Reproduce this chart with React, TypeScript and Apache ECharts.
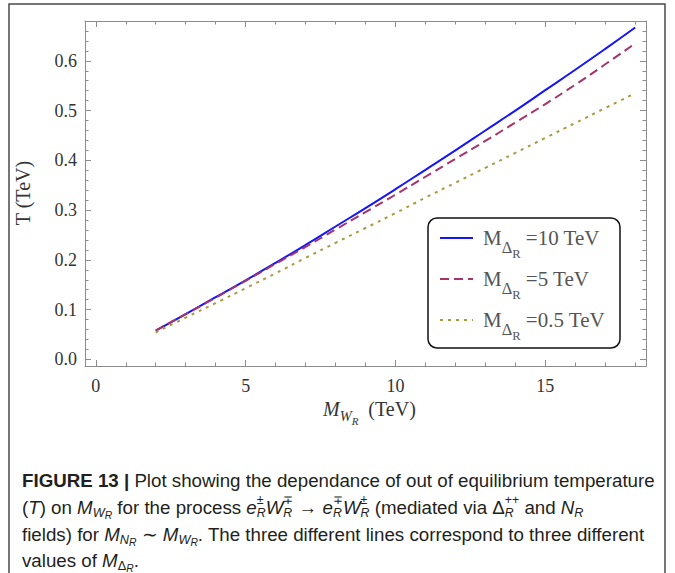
import React, { useEffect, useRef } from "react";
import * as echarts from "echarts";

const X_VALUES = [2, 3, 4, 5, 6, 7, 8, 9, 10, 11, 12, 13, 14, 15, 16, 17, 18];
const T_10TEV = [0.058, 0.091, 0.125, 0.159, 0.194, 0.23, 0.267, 0.304, 0.342, 0.381, 0.42, 0.46, 0.5, 0.541, 0.582, 0.624, 0.667];
const T_5TEV = [0.058, 0.091, 0.124, 0.158, 0.192, 0.226, 0.261, 0.296, 0.331, 0.367, 0.403, 0.439, 0.476, 0.513, 0.552, 0.593, 0.635];
const T_05TEV = [0.054, 0.084, 0.113, 0.143, 0.173, 0.204, 0.234, 0.264, 0.294, 0.325, 0.355, 0.385, 0.415, 0.445, 0.475, 0.505, 0.535];
const SERIES_NAMES = ["10 TeV", "5 TeV", "0.5 TeV"];
const X_MAJOR = [0, 5, 10, 15];
const X_MINOR = [1, 2, 3, 4, 6, 7, 8, 9, 11, 12, 13, 14, 16, 17, 18];
const Y_MAJOR = [0, 0.1, 0.2, 0.3, 0.4, 0.5, 0.6];
const Y_MINOR = [0.02, 0.04, 0.06, 0.08, 0.12, 0.14, 0.16, 0.18, 0.22, 0.24, 0.26, 0.28, 0.32, 0.34, 0.36, 0.38, 0.42, 0.44, 0.46, 0.48, 0.52, 0.54, 0.56, 0.58, 0.62, 0.64, 0.66, 0.68];

const SERIF = "'Liberation Serif', 'Times New Roman', serif";
const SANS = "'Liberation Sans', Arial, sans-serif";

type Seg = { t: string; it?: boolean; b?: boolean; lv?: number; stack?: boolean };
type Scr = { r1: number; r2: number; rs: number; o1: number; o2: number; os: number };

const CAP_SCR: Scr = { r1: 0.68, r2: 0.55, rs: 0.66, o1: 0.32, o2: 0.45, os: -0.4 };
const TITLE_SCR: Scr = { r1: 0.72, r2: 0.55, rs: 0.7, o1: 0.35, o2: 0.6, os: -0.4 };
const LEG_SCR: Scr = { r1: 0.78, r2: 0.6, rs: 0.7, o1: 0.45, o2: 0.78, os: -0.4 };

let measureCtx: CanvasRenderingContext2D | null = null;
function measure(font: string, text: string): number {
  if (!measureCtx) measureCtx = document.createElement("canvas").getContext("2d");
  measureCtx!.font = font;
  return measureCtx!.measureText(text).width;
}

function layoutLine(segs: Seg[], x0: number, yc: number, fs: number, family: string, color: string, sc: Scr) {
  const els: any[] = [];
  let x = x0;
  let prevStart = x0;
  let prevW = 0;
  for (const s of segs) {
    const lv = s.lv || 0;
    const size = lv === 1 ? fs * (s.stack ? sc.rs : sc.r1) : lv === 2 ? fs * sc.r2 : lv === -1 ? fs * sc.rs : fs;
    const off = lv === 1 ? fs * sc.o1 : lv === 2 ? fs * sc.o2 : lv === -1 ? fs * sc.os : 0;
    const fontStr = `${s.it ? "italic " : ""}${s.b ? "bold " : ""}${size}px ${family}`;
    const w = measure(fontStr, s.t);
    let start: number;
    if (s.stack) {
      start = prevStart;
      x = Math.max(prevStart + prevW, start + w);
      prevW = Math.max(prevW, w);
    } else {
      start = x;
      x = start + w;
      prevW = w;
    }
    prevStart = start;
    const lead = s.t.length - s.t.trimStart().length;
    const leadW = lead > 0 ? measure(fontStr, s.t.slice(0, lead)) : 0;
    const txt = s.t.trim();
    if (txt.length) {
      els.push({
        type: "text",
        x: start + leadW,
        y: yc + off,
        z: 100,
        style: {
          text: txt,
          fontSize: size,
          fontFamily: family,
          fontStyle: s.it ? "italic" : "normal",
          fontWeight: s.b ? "bold" : "normal",
          fill: color,
          textAlign: "left",
          textVerticalAlign: "middle",
        },
      });
    }
  }
  return els;
}

export default function App() {
  const ref = useRef<HTMLDivElement>(null);
  useEffect(() => {
    if (!ref.current) return;
    const chart = echarts.init(ref.current, undefined, { renderer: "svg" });
    const axisColor = "#8c8c8c";
    const xMin = -0.36;
    const xMax = 18.36;
    const yMin = -0.0133;
    const yMax = 0.68;

    const xAx = (pos: string, major: boolean, label: boolean, line: boolean) => ({
      type: "value",
      position: pos,
      min: xMin,
      max: xMax,
      axisLine: { show: line, onZero: false, lineStyle: { color: axisColor, width: 1 } },
      axisTick: {
        show: true,
        inside: true,
        length: major ? 6 : 3.5,
        customValues: major ? X_MAJOR : X_MINOR,
        lineStyle: { color: axisColor, width: 1 },
      },
      axisLabel: label
        ? { show: true, customValues: X_MAJOR, fontFamily: SERIF, fontSize: 18, color: "#333", margin: 11 }
        : { show: false },
      splitLine: { show: false },
    });
    const yAx = (pos: string, major: boolean, label: boolean, line: boolean) => ({
      type: "value",
      position: pos,
      min: yMin,
      max: yMax,
      axisLine: { show: line, onZero: false, lineStyle: { color: axisColor, width: 1 } },
      axisTick: {
        show: true,
        inside: true,
        length: major ? 6 : 3.5,
        customValues: major ? Y_MAJOR : Y_MINOR,
        lineStyle: { color: axisColor, width: 1 },
      },
      axisLabel: label
        ? {
            show: true,
            customValues: Y_MAJOR,
            formatter: (v: number) => v.toFixed(1),
            fontFamily: SERIF,
            fontSize: 18,
            color: "#333",
            margin: 8,
          }
        : { show: false },
      splitLine: { show: false },
    });

    const colors = ["#1414ff", "#a6336b", "#a89a3a"];
    const dashes: any[] = ["solid", [9, 5], [3, 5]];
    const dataSets = [T_10TEV, T_5TEV, T_05TEV];

    const series = dataSets.map((vals, i) => ({
      name: SERIES_NAMES[i],
      type: "line",
      xAxisIndex: 0,
      yAxisIndex: 0,
      showSymbol: false,
      symbol: "none",
      smooth: true,
      data: X_VALUES.map((x, j) => [x, vals[j]]),
      lineStyle: { color: colors[i], width: 2, type: dashes[i] },
      z: 3 + i,
    }));

    // caption font fit
    const line1: Seg[] = [
      { t: "FIGURE 13 |", b: true },
      { t: " Plot showing the dependance of out of equilibrium temperature" },
    ];
    let w20 = 0;
    for (const s of line1) w20 += measure(`${s.b ? "bold " : ""}20px ${SANS}`, s.t);
    const capFs = Math.max(14, Math.min(20, (20 * 633) / w20));
    const capColor = "#231f20";
    const line2: Seg[] = [
      { t: "(" }, { t: "T", it: true }, { t: ") on " }, { t: "M", it: true }, { t: "W", it: true, lv: 1 }, { t: "R", it: true, lv: 2 },
      { t: " for the process " },
      { t: "e", it: true }, { t: "±", lv: -1 }, { t: "R", it: true, lv: 1, stack: true },
      { t: "W", it: true }, { t: "∓", lv: -1 }, { t: "R", it: true, lv: 1, stack: true },
      { t: " → " },
      { t: "e", it: true }, { t: "∓", lv: -1 }, { t: "R", it: true, lv: 1, stack: true },
      { t: "W", it: true }, { t: "±", lv: -1 }, { t: "R", it: true, lv: 1, stack: true },
      { t: " (mediated via " }, { t: "Δ" }, { t: "++", lv: -1 }, { t: "R", it: true, lv: 1, stack: true },
      { t: " and " }, { t: "N", it: true }, { t: "R", it: true, lv: 1 },
    ];
    const line3: Seg[] = [
      { t: "fields) for " }, { t: "M", it: true }, { t: "N", it: true, lv: 1 }, { t: "R", it: true, lv: 2 },
      { t: " ∼ " }, { t: "M", it: true }, { t: "W", it: true, lv: 1 }, { t: "R", it: true, lv: 2 },
      { t: ". The three different lines correspond to three different" },
    ];
    const line4: Seg[] = [
      { t: "values of " }, { t: "M", it: true }, { t: "Δ", lv: 1 }, { t: "R", it: true, lv: 2 }, { t: "." },
    ];

    const graphics: any[] = [];
    // outer frame
    graphics.push({
      type: "rect",
      shape: { x: 9, y: 4, width: 656, height: 580 },
      style: { fill: "none", stroke: "#4a4a4a", lineWidth: 1.5 },
      z: 0,
      silent: true,
    });
    // y axis title
    graphics.push({
      type: "text",
      x: 23,
      y: 193,
      rotation: Math.PI / 2,
      style: {
        text: "T (TeV)",
        fontSize: 20,
        fontFamily: SERIF,
        fill: "#333",
        textAlign: "center",
        textVerticalAlign: "middle",
      },
    });
    // x axis title
    graphics.push(
      ...layoutLine(
        [{ t: "M", it: true }, { t: "W", it: true, lv: 1 }, { t: "R", it: true, lv: 2 }, { t: "  (TeV)" }],
        323,
        409,
        20,
        SERIF,
        "#333",
        TITLE_SCR
      )
    );
    // legend box
    graphics.push({
      type: "rect",
      shape: { x: 428, y: 218, width: 192, height: 130, r: 9 },
      style: { fill: "#fff", stroke: "#111", lineWidth: 1.5 },
      z: 90,
    });
    const legendRows = [238, 279, 320];
    const legendLabels = ["10 TeV", "5 TeV", "0.5 TeV"];
    legendRows.forEach((yy, i) => {
      graphics.push({
        type: "line",
        shape: { x1: 440, y1: yy, x2: 473, y2: yy },
        style: { stroke: colors[i], lineWidth: 2, lineDash: i === 0 ? null : dashes[i] },
        z: 95,
      });
      graphics.push(
        ...layoutLine(
          [{ t: "M" }, { t: "Δ", lv: 1 }, { t: "R", lv: 2 }, { t: " =" + legendLabels[i] }],
          483,
          yy,
          21,
          SERIF,
          "#555",
          LEG_SCR
        )
      );
    });
    // caption
    const capX = 22;
    const capY = [480, 507, 534, 560];
    [line1, line2, line3, line4].forEach((ln, i) => {
      graphics.push(...layoutLine(ln, capX, capY[i], capFs, SANS, capColor, CAP_SCR));
    });

    chart.setOption({
      animation: false,
      backgroundColor: "#fff",
      grid: { left: 85, top: 21, width: 561, height: 345, containLabel: false },
      xAxis: [xAx("bottom", true, true, true), xAx("bottom", false, false, false), xAx("top", true, false, true), xAx("top", false, false, false)],
      yAxis: [yAx("left", true, true, true), yAx("left", false, false, false), yAx("right", true, false, true), yAx("right", false, false, false)],
      series,
      graphic: { elements: graphics },
    });
    return () => chart.dispose();
  }, []);
  return (
    <div
      ref={ref}
      style={{ position: "fixed", left: 0, top: 0, width: 675, height: 573, background: "#fff" }}
    />
  );
}
